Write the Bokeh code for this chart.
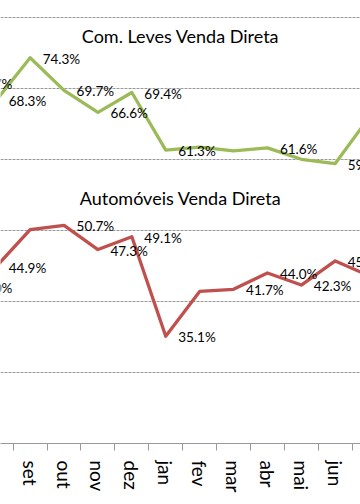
from bokeh.plotting import figure
from bokeh.models import FixedTicker, Range1d, ColumnDataSource, Label
from bokeh.embed import file_html
from bokeh.resources import INLINE
from bokeh.core.properties import value

# ---- data ----
months = ["jul", "ago", "set", "out", "nov", "dez", "jan", "fev", "mar", "abr", "mai", "jun", "jul"]
idx = list(range(-1, 12))
leves = [70.7, 68.3, 74.3, 69.7, 66.6, 69.4, 61.3, 61.7, 61.2, 61.6, 60.0, 59.4, 65.9]
leves_show = [1, 1, 1, 1, 1, 1, 1, 0, 0, 1, 0, 1, 1]
autos = [42.0, 44.9, 50.1, 50.7, 47.3, 49.1, 35.1, 41.4, 41.7, 44.0, 42.3, 45.7, 43.6]
autos_show = [1, 1, 0, 1, 1, 1, 1, 0, 1, 1, 1, 1, 1]
grid_values = [30, 40, 50, 60, 70, 80]
title_leves = "Com. Leves Venda Direta"
title_autos = "Automóveis Venda Direta"

FONT = "Lato"
GREEN = "#9BBB59"
RED = "#C0504D"
GRAY = "#999999"

p = figure(width=360, height=504, output_backend="svg", toolbar_location=None,
           x_range=Range1d(0.1254, 10.745), y_range=Range1d(20, 82.35),
           min_border_left=0, min_border_right=0, min_border_top=0, min_border_bottom=61)
p.outline_line_color = None
p.background_fill_color = "white"
p.border_fill_color = "white"
p.yaxis.visible = False

# grid
p.xgrid.visible = False
p.ygrid.ticker = FixedTicker(ticks=grid_values)
p.ygrid.grid_line_color = GRAY
p.ygrid.grid_line_dash = "3 1"
p.ygrid.grid_line_width = 1

# x axis
ax = p.xaxis[0]
ax.ticker = FixedTicker(ticks=idx, minor_ticks=[i + 0.5 for i in idx])
ax.major_label_overrides = {i: m for i, m in zip(idx, months)}
ax.major_tick_out = 0
ax.major_tick_in = 0
ax.minor_tick_out = 7
ax.minor_tick_in = 0
ax.minor_tick_line_color = GRAY
ax.axis_line_color = GRAY
ax.major_label_orientation = "vertical"
ax.major_label_standoff = 10
ax.major_label_text_font = FONT
ax.major_label_text_font_size = "19px"
ax.major_label_text_color = "black"

for vals, show, color in ((leves, leves_show, GREEN), (autos, autos_show, RED)):
    src = ColumnDataSource(dict(
        x=idx, y=vals,
        t=[f"{v:.1f}%" if s else "" for v, s in zip(vals, show)]))
    p.line("x", "y", source=src, line_color=color, line_width=3.3, line_join="round")
    p.text("x", "y", text="t", source=src, x_offset=12.5, y_offset=1,
           text_align="left", text_baseline="middle",
           text_font=value(FONT), text_font_size="13.5px", text_color="black")

xc = (p.x_range.start + p.x_range.end) / 2
for txt, yv in ((title_leves, 77.4), (title_autos, 54.5)):
    p.add_layout(Label(x=xc, y=yv, text=txt, text_align="center", text_baseline="alphabetic",
                       text_font=FONT, text_font_size="18px", text_color="black"))

open("out.html", "w").write(file_html(p, INLINE))
